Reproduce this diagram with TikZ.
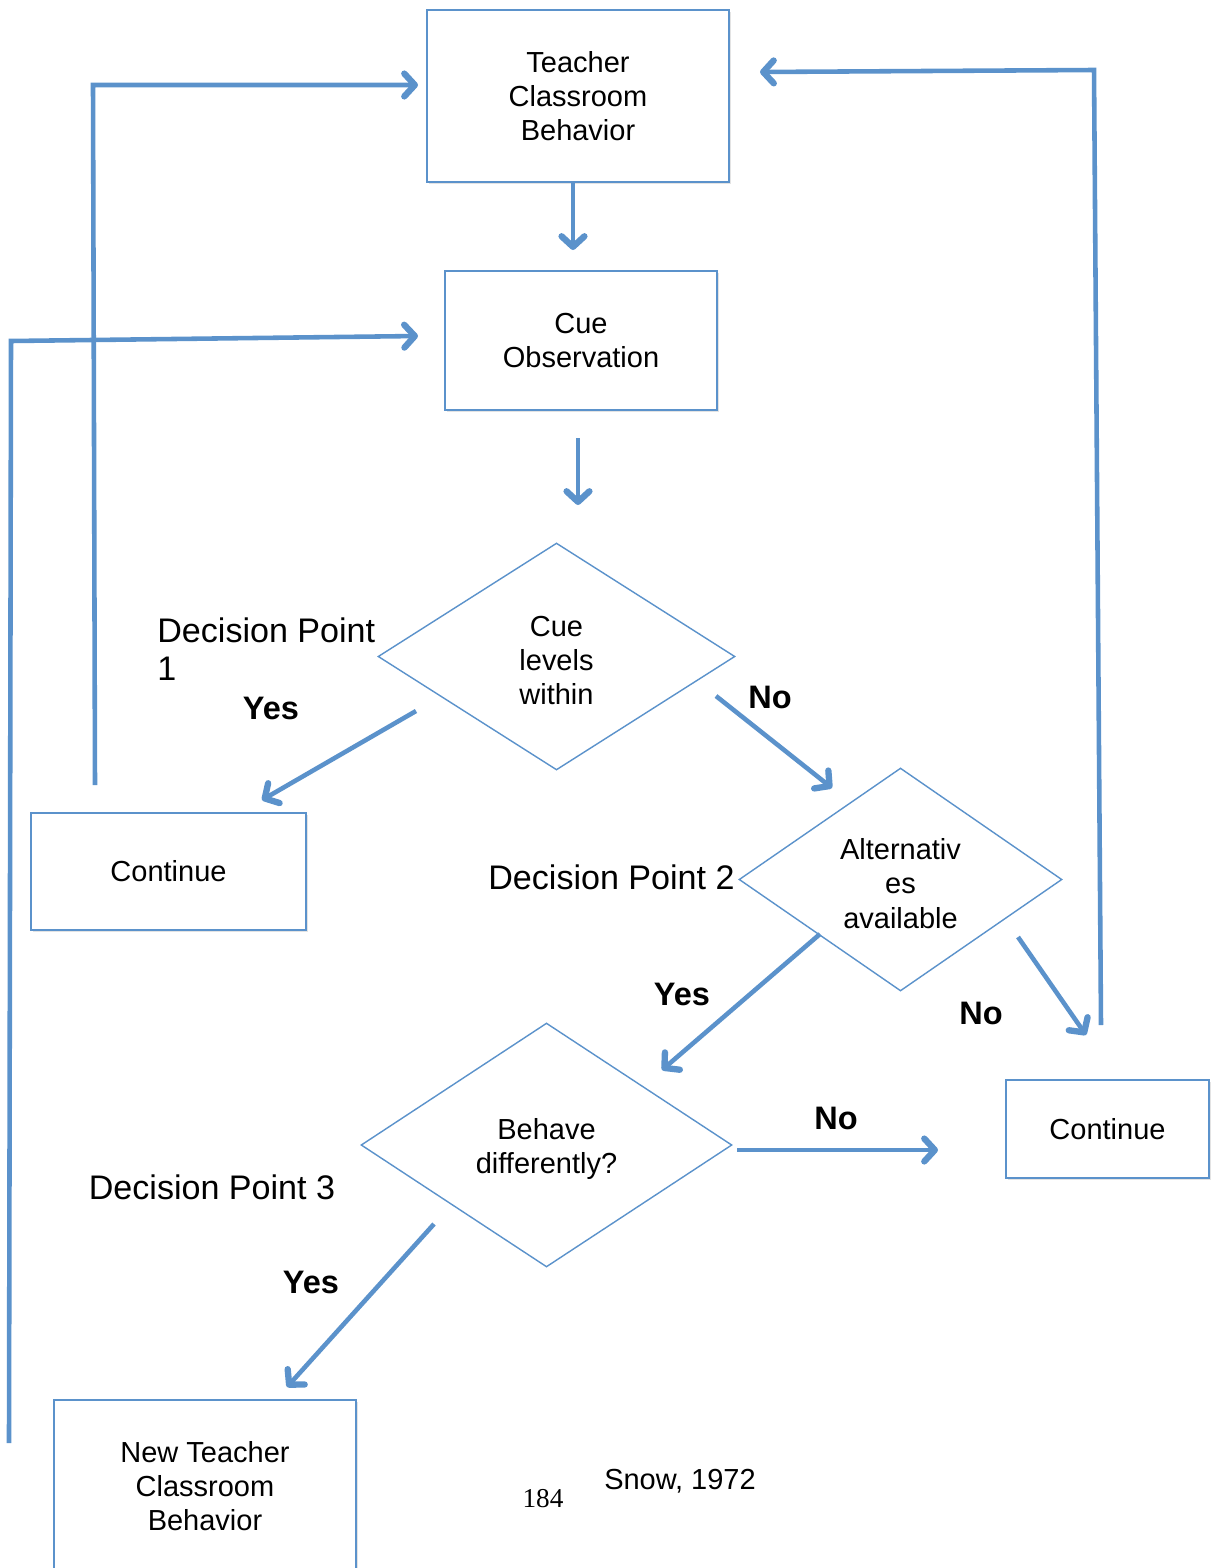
\documentclass[tikz,border=0pt]{standalone}
\usepackage{fontspec}
\setmainfont{Liberation Sans}
\newfontfamily\pagenumfont{Liberation Serif}
\usetikzlibrary{shapes.geometric, shadows}
\usetikzlibrary{arrows.meta}
\definecolor{flowblue}{HTML}{5B92CB}
\tikzset{>={Straight Barb[length=6pt,width=13pt,line width=3.6pt,round]}}

\begin{document}
\begin{tikzpicture}[x=0.02cm, y=-0.02cm, font=\fontsize{16.5}{19.5}\selectfont, box/.style={rectangle, draw=flowblue, line width=1.1pt, fill=white, align=center, inner sep=0pt, drop shadow={shadow xshift=1pt, shadow yshift=-1.4pt, opacity=0.22}}, decision/.style={diamond, draw=flowblue, line width=0.8pt, fill=white, align=center, inner sep=0pt}, dtext/.style={align=center, yshift=-2.3pt}, flow/.style={->, draw=flowblue, line width=2.6pt}, dplabel/.style={font=\fontsize{19.4}{21.6}\selectfont, align=left, inner sep=0pt}, answer/.style={font=\fontsize{18.5}{21}\selectfont\bfseries, inner sep=0pt}]
    \clip (0,0) rectangle (1216,1568);
    
    %Nodes
    \node[box, minimum width=6.04cm, minimum height=3.44cm](teacher) at (578,96){Teacher\\Classroom\\Behavior};
    \node[box, minimum width=5.44cm, minimum height=2.78cm](cue_obs) at (581,340.5){Cue\\Observation};
    \node[decision, minimum width=7.14cm, minimum height=4.54cm, aspect=1.57, label={[dtext]center:Cue\\levels\\within}](cue_levels) at (556.5,656.5){};
    \node[box, minimum width=5.5cm, minimum height=2.34cm](continue_l) at (168.5,871.5){Continue};
    \node[decision, minimum width=6.46cm, minimum height=4.46cm, aspect=1.45, label={[dtext]center:Alternativ\\es\\available}](alternatives) at (900.5,879.5){};
    \node[box, minimum width=4.06cm, minimum height=1.96cm](continue_r) at (1107.5,1129){Continue};
    \node[decision, minimum width=7.42cm, minimum height=4.88cm, aspect=1.52, label={[dtext]center:Behave\\differently?}](behave) at (546.5,1145){};
    \node[box, minimum width=6.04cm, minimum height=3.44cm](new_teacher) at (205,1486){New Teacher\\Classroom\\Behavior};
    
    \node[dplabel, anchor=west](dp_one) at (157,649){Decision Point\\1};
    \node[dplabel, anchor=east](dp_two) at (735,877){Decision Point 2};
    \node[dplabel](dp_three) at (212,1187){Decision Point 3};
    \node[answer](yes_one) at (271,708){Yes};
    \node[answer](no_one) at (770,697){No};
    \node[answer](yes_two) at (682,994){Yes};
    \node[answer](no_two) at (981,1013){No};
    \node[answer](no_three) at (836,1118){No};
    \node[answer](yes_three) at (311,1282){Yes};
    \node[font=\pagenumfont\fontsize{15.5}{18}\selectfont](page_num) at (543,1499){184};
    \node(source) at (680,1481){Snow, 1972};
    
    %Coordinates
    \coordinate (t_out) at (573,182);
    \coordinate (c_in) at (573,250);
    \coordinate (c_out) at (578,438);
    \coordinate (d1_in) at (578,505);
    \coordinate (d1_yes) at (416,711);
    \coordinate (cl_in) at (262,800);
    \coordinate (d1_no) at (716,696);
    \coordinate (d2_in) at (832,788);
    \coordinate (d2_yes) at (820,934);
    \coordinate (d3_in) at (662,1070);
    \coordinate (d2_no) at (1018,937);
    \coordinate (cr_in) at (1086,1035);
    \coordinate (d3_no) at (737,1150);
    \coordinate (cr_left) at (938,1150);
    \coordinate (d3_yes) at (434,1224);
    \coordinate (nt_in) at (287,1387);
    \coordinate (cl_up) at (95,785);
    \coordinate (cl_top) at (93,85);
    \coordinate (t_left) at (418,85);
    \coordinate (nt_up) at (9,1443);
    \coordinate (nt_top) at (11,341);
    \coordinate (c_left) at (418,336);
    \coordinate (cr_up) at (1101,1025);
    \coordinate (cr_top) at (1094,70);
    \coordinate (t_right) at (760,72);
    
    %Lines
    \draw[flow] (t_out) -- (c_in);
    \draw[flow] (c_out) -- (d1_in);
    \draw[flow] (d1_yes) -- (cl_in);
    \draw[flow] (d1_no) -- (d2_in);
    \draw[flow] (d2_yes) -- (d3_in);
    \draw[flow] (d2_no) -- (cr_in);
    \draw[flow] (d3_no) -- (cr_left);
    \draw[flow] (d3_yes) -- (nt_in);
    \draw[flow] (cl_up) -- (cl_top) -- (t_left);
    \draw[flow] (nt_up) -- (nt_top) -- (c_left);
    \draw[flow] (cr_up) -- (cr_top) -- (t_right);
    
\end{tikzpicture}
\end{document}
